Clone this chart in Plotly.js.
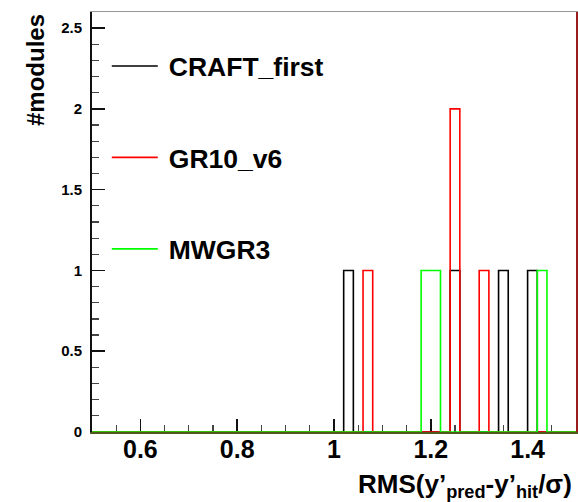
<!DOCTYPE html>
<html>
<head>
<meta charset="utf-8">
<script src="https://cdn.plot.ly/plotly-3.0.1.min.js"></script>
<style>html,body{margin:0;padding:0;background:#fff;}#chart{width:578px;height:502px;}</style>
</head>
<body>
<div id="chart"></div>
<script>
// Histogram binning (ROOT TH1: 50 bins over 0.5 .. 1.5)
const binStart = 0.5;
const binEnd = 1.5;
const binWidth = 0.02;

// Series: bin centres holding entries, and the entries in each
const seriesNames = ["CRAFT_first", "GR10_v6", "MWGR3"];
const seriesColors = ["#000000", "#ff0000", "#00ff00"];
const craftCenters = [1.03, 1.25, 1.35, 1.41];
const craftCounts  = [1, 1, 1, 1];
const gr10Centers  = [1.07, 1.25, 1.31];
const gr10Counts   = [1, 2, 1];
const mwgrCenters  = [1.19, 1.21, 1.43];
const mwgrCounts   = [1, 1, 1];

// Axis ticks
const xTickVals = [0.6, 0.8, 1.0, 1.2, 1.4];
const xTickText = ["0.6", "0.8", "1", "1.2", "1.4"];
const yTickVals = [0, 0.5, 1, 1.5, 2, 2.5];
const yTickText = ["0", "0.5", "1", "1.5", "2", "2.5"];

function stepArrays(centers, counts) {
  const n = Math.round((binEnd - binStart) / binWidth);
  const bins = new Array(n).fill(0);
  centers.forEach((c, k) => {
    const i = Math.floor((c - binStart) / binWidth + 1e-9);
    if (i >= 0 && i < n) bins[i] += counts[k];
  });
  const xs = [], ys = [];
  for (let i = 0; i <= n; i++) {
    xs.push(+(binStart + i * binWidth).toFixed(4));
    ys.push(i < n ? bins[i] : 0);
  }
  return {xs, ys};
}

const allCenters = [craftCenters, gr10Centers, mwgrCenters];
const allCounts = [craftCounts, gr10Counts, mwgrCounts];
const FONT = "Liberation Sans, Arial, Helvetica, sans-serif";

const traces = seriesNames.map((name, k) => {
  const s = stepArrays(allCenters[k], allCounts[k]);
  return {
    type: "scatter", mode: "lines", name: name,
    x: s.xs, y: s.ys,
    line: {shape: "hv", color: seriesColors[k], width: 1.6},
    legendgroup: name,
    hoverinfo: "skip"
  };
});

const layout = {
  width: 578, height: 502,
  margin: {l: 92, r: 2, t: 12, b: 70, pad: 0},
  paper_bgcolor: "#ffffff", plot_bgcolor: "#ffffff",
  showlegend: true,
  legend: {
    x: 0.076, xanchor: "left", y: 0.928, yanchor: "top",
    bgcolor: "rgba(0,0,0,0)", borderwidth: 0,
    traceorder: "grouped", tracegroupgap: 54,
    font: {family: FONT, size: 26.5, color: "#000", weight: "bold"}
  },
  xaxis: {
    range: [binStart, binEnd], showgrid: false, zeroline: false,
    showline: true, linecolor: "#4f5a1c", linewidth: 2, layer: "below traces",
    ticks: "inside", ticklen: 13, tickwidth: 1.5, tickcolor: "#111",
    tickmode: "array", tickvals: xTickVals, ticktext: xTickText,
    ticklabelstandoff: -6,
    tickfont: {family: FONT, size: 25, color: "#000", weight: "bold"},
    minor: {dtick: 0.05, tick0: 0, ticks: "inside", ticklen: 7, tickwidth: 1.2, tickcolor: "#444", showgrid: false}
  },
  xaxis2: {
    overlaying: "x", side: "top", range: [binStart, binEnd], showgrid: false, zeroline: false,
    showline: true, linecolor: "#999", linewidth: 1, showticklabels: false, ticks: "", matches: "x"
  },
  yaxis: {
    range: [0, 2.6], showgrid: false, zeroline: false,
    showline: true, linecolor: "#111", linewidth: 2, layer: "below traces",
    ticks: "inside", ticklen: 13, tickwidth: 1.5, tickcolor: "#111",
    tickmode: "array", tickvals: yTickVals, ticktext: yTickText,
    ticklabelstandoff: 5,
    tickfont: {family: FONT, size: 15, color: "#000", weight: "bold"},
    minor: {dtick: 0.1, tick0: 0, ticks: "inside", ticklen: 7, tickwidth: 1.2, tickcolor: "#444", showgrid: false}
  },
  yaxis2: {
    overlaying: "y", side: "right", anchor: "x", range: [0, 2.6], showgrid: false, zeroline: false,
    showline: true, linecolor: "#9a1c1c", linewidth: 2, showticklabels: false, ticks: ""
  },
  annotations: [
    {
      xref: "paper", yref: "paper", x: 1, y: 0, xanchor: "right", yanchor: "top",
      xshift: -2, yshift: -35, showarrow: false,
      text: "RMS(y’<sub>pred</sub>-y’<sub>hit</sub>/σ)",
      font: {family: FONT, size: 26, color: "#000", weight: "bold"}
    },
    {
      xref: "paper", yref: "paper", x: 0, y: 1, xanchor: "center", yanchor: "top",
      xshift: -57, yshift: 0, showarrow: false, textangle: -90,
      text: "#modules",
      font: {family: FONT, size: 24, color: "#000", weight: "bold"}
    }
  ]
};

// dummy trace to activate the secondary axes (frame lines)
traces.push({type: "scatter", x: [binStart], y: [0], xaxis: "x2", yaxis: "y2", mode: "none", showlegend: false, hoverinfo: "skip"});

function lengthenLegendLines() {
  // ROOT-style legend: longer line samples to the left of the text
  const root = document.getElementById("chart");
  root.querySelectorAll(".legend, .legend [clip-path]").forEach(el => el.removeAttribute("clip-path"));
  root.querySelectorAll(".legend path.js-line, .legend .legendlines path").forEach(p => {
    p.setAttribute("d", "M-17,0h46");
  });
}

Plotly.newPlot("chart", traces, layout, {displayModeBar: false, staticPlot: true}).then(gd => {
  lengthenLegendLines();
  gd.on("plotly_afterplot", lengthenLegendLines);
  setTimeout(lengthenLegendLines, 0);
  setTimeout(lengthenLegendLines, 100);
});
</script>
</body>
</html>
